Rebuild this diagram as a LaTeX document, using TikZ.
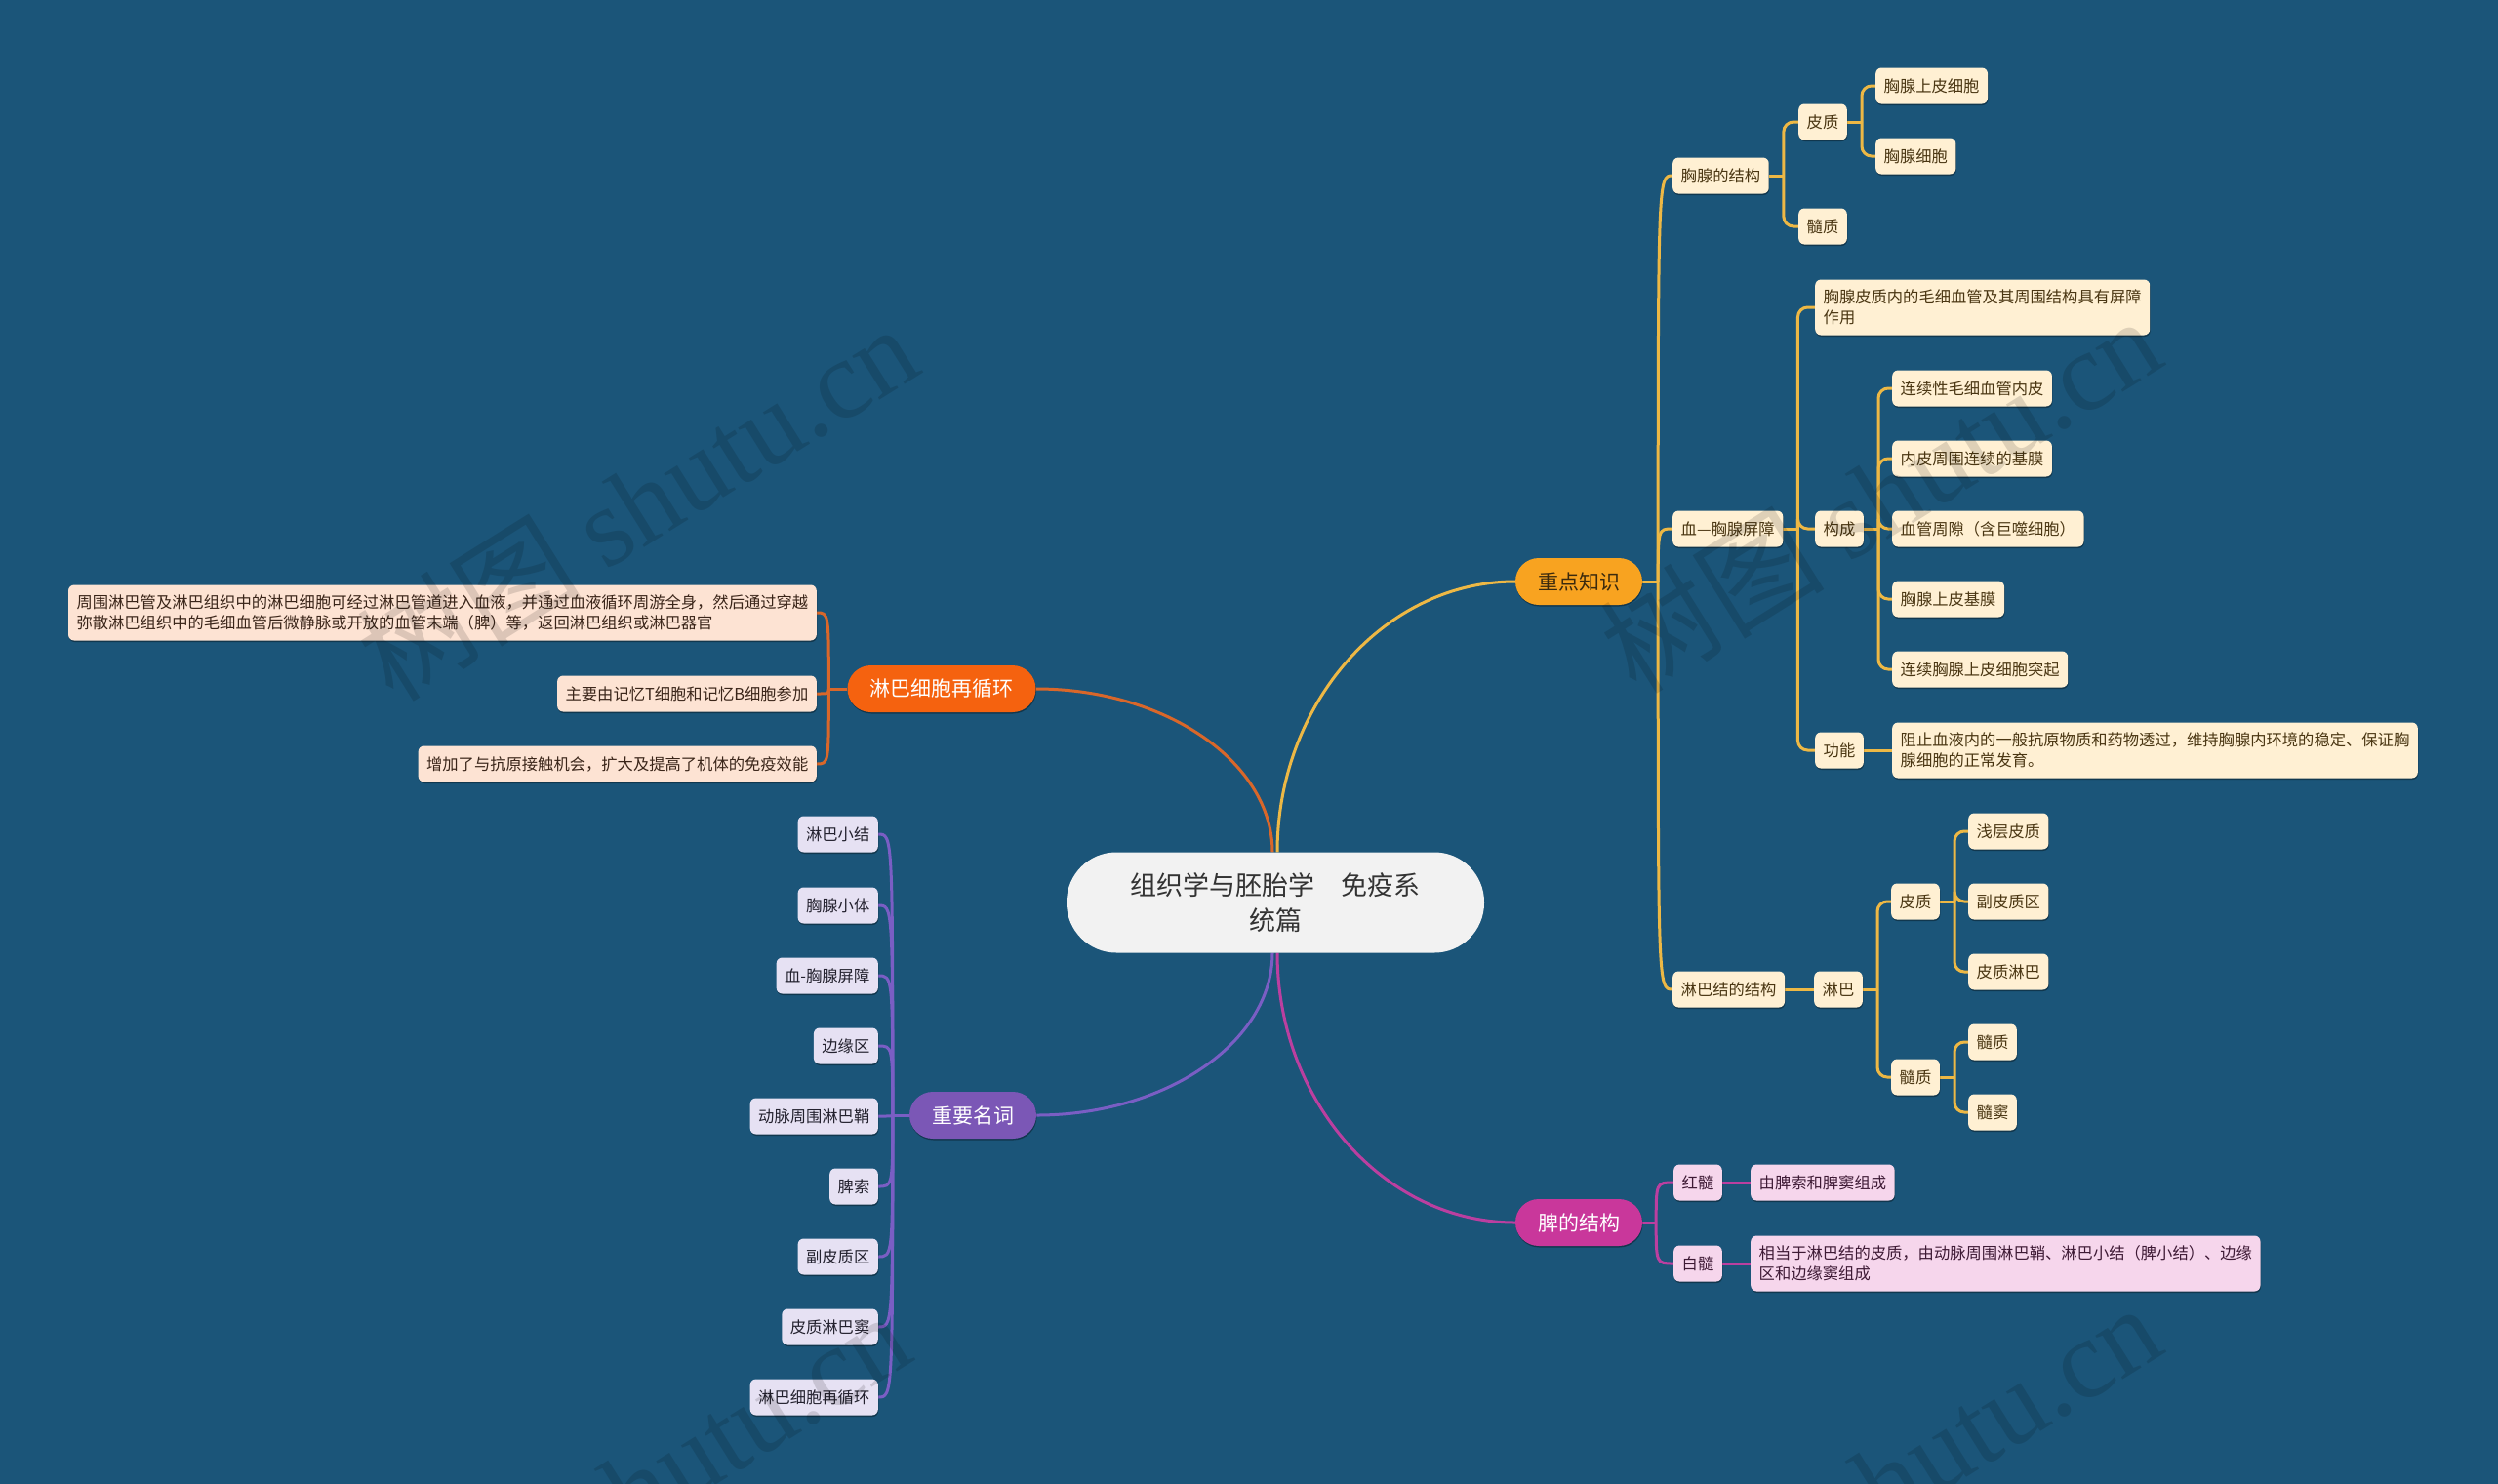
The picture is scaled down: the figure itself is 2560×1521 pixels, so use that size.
\documentclass[tikz,border=0pt]{standalone}
\usepackage{fontspec}
\setmainfont{Noto Sans CJK SC}
\newfontfamily\wmserif{Liberation Serif}
\usetikzlibrary{calc,shadows}
\definecolor{bgc}{HTML}{1B5579}
\definecolor{cfill}{HTML}{F2F2F2}
\definecolor{ctext}{HTML}{333333}
\definecolor{ymain}{HTML}{F8A320}
\definecolor{ymtext}{HTML}{3B2A0E}
\definecolor{ycol}{HTML}{EDB845}
\definecolor{yfill}{HTML}{FFF0D3}
\definecolor{ytext}{HTML}{4A3612}
\definecolor{omain}{HTML}{F5620F}
\definecolor{ocol}{HTML}{D9672A}
\definecolor{ofill}{HTML}{FDE3D3}
\definecolor{otext}{HTML}{3A2519}
\definecolor{pmain}{HTML}{7B57B6}
\definecolor{pcol}{HTML}{7A5EC4}
\definecolor{pfill}{HTML}{E6E1F3}
\definecolor{ptext}{HTML}{23212E}
\definecolor{mmain}{HTML}{C9379B}
\definecolor{mcol}{HTML}{BB3FA0}
\definecolor{mfill}{HTML}{F6D6EC}
\definecolor{mtext}{HTML}{3E1A35}
\pgfdeclarelayer{bgl}
\pgfdeclarelayer{edges}
\pgfsetlayers{bgl,edges,main}
\tikzset{
  shd/.style={drop shadow={shadow xshift=0.5pt,shadow yshift=-1.5pt,opacity=0.35,fill=black}},
  leaf/.style={shd,rounded corners=6pt,inner xsep=8.5pt,inner ysep=0pt,minimum height=37pt,font=\fontsize{16.3}{21}\selectfont},
  multi/.style={leaf,align=left,inner ysep=7.5pt,minimum height=57pt},
  yl/.style={fill=yfill,text=ytext},
  ol/.style={fill=ofill,text=otext},
  pl/.style={fill=pfill,text=ptext},
  ml/.style={fill=mfill,text=mtext},
  mainb/.style={shd,rounded corners=24pt,minimum height=48pt,inner xsep=23pt,inner ysep=0pt,font=\fontsize{21}{24}\selectfont},
  cnode/.style={fill=cfill,text=ctext,rounded corners=51pt,minimum width=428pt,minimum height=103pt,align=center,font=\fontsize{27}{36}\selectfont},
  ycon/.style={draw=ycol,line width=3pt},
  ocon/.style={draw=ocol,line width=3pt},
  pcon/.style={draw=pcol,line width=3pt},
  mcon/.style={draw=mcol,line width=3pt},
  wm/.style={text=black,opacity=0.13,rotate=32,font=\fontsize{115}{115}\selectfont}
}
\begin{document}
\begin{tikzpicture}[x=1pt,y=-1pt]
\useasboundingbox (0,0) rectangle (2560,1521);
\begin{pgfonlayer}{bgl}
\fill[bgc] (0,0) rectangle (2560,1521);
\end{pgfonlayer}

% central
\node[cnode] (c) at (1307,925) {组织学与胚胎学　免疫系\\统篇};

% main branches
\node[mainb,fill=ymain,text=ymtext] (zd) at (1618,596) {重点知识};
\node[mainb,fill=omain,text=white] (lx) at (965,706) {淋巴细胞再循环};
\node[mainb,fill=pmain,text=white] (zy) at (997,1143) {重要名词};
\node[mainb,fill=mmain,text=white] (pj) at (1618,1253) {脾的结构};

% 重点知识 subtree
\node[leaf,yl,anchor=west] (xj) at (1714,180) {胸腺的结构};
\node[leaf,yl,anchor=west] (xjpz) at (1843,125) {皮质};
\node[leaf,yl,anchor=west] (xjpz1) at (1922,88) {胸腺上皮细胞};
\node[leaf,yl,anchor=west] (xjpz2) at (1922,160) {胸腺细胞};
\node[leaf,yl,anchor=west] (xjsz) at (1843,232) {髓质};

\node[leaf,yl,anchor=west] (xp) at (1714,542) {血—胸腺屏障};
\node[multi,yl,anchor=west] (xp1) at (1860,315) {胸腺皮质内的毛细血管及其周围结构具有屏障\\作用};
\node[leaf,yl,anchor=west] (xpgc) at (1860,542) {构成};
\node[leaf,yl,anchor=west] (gc1) at (1939,398) {连续性毛细血管内皮};
\node[leaf,yl,anchor=west] (gc2) at (1939,470) {内皮周围连续的基膜};
\node[leaf,yl,anchor=west] (gc3) at (1939,542) {血管周隙（含巨噬细胞）};
\node[leaf,yl,anchor=west] (gc4) at (1939,614) {胸腺上皮基膜};
\node[leaf,yl,anchor=west] (gc5) at (1939,686) {连续胸腺上皮细胞突起};
\node[leaf,yl,anchor=west] (xpgn) at (1860,769) {功能};
\node[multi,yl,anchor=west] (gn1) at (1939,769) {阻止血液内的一般抗原物质和药物透过，维持胸腺内环境的稳定、保证胸\\腺细胞的正常发育。};

\node[leaf,yl,anchor=west] (lj) at (1714,1014) {淋巴结的结构};
\node[leaf,yl,anchor=west] (ljlb) at (1859,1014) {淋巴};
\node[leaf,yl,anchor=west] (ljpz) at (1938,924) {皮质};
\node[leaf,yl,anchor=west] (lp1) at (2017,852) {浅层皮质};
\node[leaf,yl,anchor=west] (lp2) at (2017,924) {副皮质区};
\node[leaf,yl,anchor=west] (lp3) at (2017,996) {皮质淋巴};
\node[leaf,yl,anchor=west] (ljsz) at (1938,1104) {髓质};
\node[leaf,yl,anchor=west] (ls1) at (2017,1068) {髓质};
\node[leaf,yl,anchor=west] (ls2) at (2017,1140) {髓窦};

% 脾的结构 subtree
\node[leaf,ml,anchor=west] (hs) at (1715,1212) {红髓};
\node[leaf,ml,anchor=west] (hs1) at (1794,1212) {由脾索和脾窦组成};
\node[leaf,ml,anchor=west] (bs) at (1715,1295) {白髓};
\node[multi,ml,anchor=west] (bs1) at (1794,1295) {相当于淋巴结的皮质，由动脉周围淋巴鞘、淋巴小结（脾小结）、边缘\\区和边缘窦组成};

% 淋巴细胞再循环 subtree
\node[multi,ol,anchor=east] (lx1) at (837,628) {周围淋巴管及淋巴组织中的淋巴细胞可经过淋巴管道进入血液，并通过血液循环周游全身，然后通过穿越\\弥散淋巴组织中的毛细血管后微静脉或开放的血管末端（脾）等，返回淋巴组织或淋巴器官};
\node[leaf,ol,anchor=east] (lx2) at (837,711) {主要由记忆T细胞和记忆B细胞参加};
\node[leaf,ol,anchor=east] (lx3) at (837,783) {增加了与抗原接触机会，扩大及提高了机体的免疫效能};

% 重要名词 subtree
\node[leaf,pl,anchor=east] (zy1) at (900,855) {淋巴小结};
\node[leaf,pl,anchor=east] (zy2) at (900,928) {胸腺小体};
\node[leaf,pl,anchor=east] (zy3) at (900,1000) {血-胸腺屏障};
\node[leaf,pl,anchor=east] (zy4) at (900,1072) {边缘区};
\node[leaf,pl,anchor=east] (zy5) at (900,1144) {动脉周围淋巴鞘};
\node[leaf,pl,anchor=east] (zy6) at (900,1216) {脾索};
\node[leaf,pl,anchor=east] (zy7) at (900,1288) {副皮质区};
\node[leaf,pl,anchor=east] (zy8) at (900,1360) {皮质淋巴窦};
\node[leaf,pl,anchor=east] (zy9) at (900,1432) {淋巴细胞再循环};

% junctions
\coordinate (zdJ) at ($(zd.east)+(16,0)$);
\coordinate (pjJ) at ($(pj.east)+(14,0)$);
\coordinate (lxJ) at ($(lx.west)+(-19,0)$);
\coordinate (zyJ) at ($(zy.west)+(-17,0)$);
\coordinate (xjJ) at ($(xj.east)+(15,0)$);
\coordinate (xjpzJ) at ($(xjpz.east)+(15,0)$);
\coordinate (xpJ) at ($(xp.east)+(15,0)$);
\coordinate (xpgcJ) at ($(xpgc.east)+(15,0)$);
\coordinate (ljlbJ) at ($(ljlb.east)+(15,0)$);
\coordinate (ljpzJ) at ($(ljpz.east)+(15,0)$);
\coordinate (ljszJ) at ($(ljsz.east)+(15,0)$);
\coordinate (cN1) at ($(c.north)+(2,0)$);
\coordinate (cN2) at ($(c.north)+(-3,0)$);
\coordinate (cS1) at ($(c.south)+(-3,0)$);
\coordinate (cS2) at ($(c.south)+(2,0)$);

\begin{pgfonlayer}{edges}
% main curves
\draw[ycon] (cN1) .. controls +(0,-152) and +(-134,0) .. (zd.west);
\draw[ocon] (cN2) .. controls +(0,-92) and +(133,0) .. (lx.east);
\draw[pcon] (cS1) .. controls +(0,92) and +(132,0) .. (zy.east);
\draw[mcon] (cS2) .. controls +(0,152) and +(-134,0) .. (pj.west);

% level 1 curvy
\draw[ycon] (zd.east) -- (zdJ);
\foreach \n in {xj,xp,lj} \draw[ycon] (zdJ) .. controls (zdJ |- \n.west) .. (\n.west);
\draw[mcon] (pj.east) -- (pjJ);
\foreach \n in {hs,bs} \draw[mcon] (pjJ) .. controls (pjJ |- \n.west) .. (\n.west);
\draw[ocon] (lx.west) -- (lxJ);
\foreach \n in {lx1,lx2,lx3} \draw[ocon] (lxJ) .. controls (lxJ |- \n.east) .. (\n.east);
\draw[pcon] (zy.west) -- (zyJ);
\foreach \n in {zy1,zy2,zy3,zy4,zy5,zy6,zy7,zy8,zy9} \draw[pcon] (zyJ) .. controls (zyJ |- \n.east) .. (\n.east);

% deeper elbows
\draw[ycon] (xj.east) -- (xjJ);
\foreach \n in {xjpz,xjsz} \draw[ycon,rounded corners=10pt] (xjJ) |- (\n.west);
\draw[ycon] (xjpz.east) -- (xjpzJ);
\foreach \n in {xjpz1,xjpz2} \draw[ycon,rounded corners=10pt] (xjpzJ) |- (\n.west);
\draw[ycon] (xp.east) -- (xpJ);
\foreach \n in {xp1,xpgc,xpgn} \draw[ycon,rounded corners=10pt] (xpJ) |- (\n.west);
\draw[ycon] (xpgc.east) -- (xpgcJ);
\foreach \n in {gc1,gc2,gc3,gc4,gc5} \draw[ycon,rounded corners=10pt] (xpgcJ) |- (\n.west);
\draw[ycon] (xpgn.east) -- (gn1.west);
\draw[ycon] (lj.east) -- (ljlb.west);
\draw[ycon] (ljlb.east) -- (ljlbJ);
\foreach \n in {ljpz,ljsz} \draw[ycon,rounded corners=10pt] (ljlbJ) |- (\n.west);
\draw[ycon] (ljpz.east) -- (ljpzJ);
\foreach \n in {lp1,lp2,lp3} \draw[ycon,rounded corners=10pt] (ljpzJ) |- (\n.west);
\draw[ycon] (ljsz.east) -- (ljszJ);
\foreach \n in {ls1,ls2} \draw[ycon,rounded corners=10pt] (ljszJ) |- (\n.west);
\draw[mcon] (hs.east) -- (hs1.west);
\draw[mcon] (bs.east) -- (bs1.west);
\end{pgfonlayer}

% watermarks
\node[wm] (wm1) at (653,514) {树图 {\wmserif shutu.cn}};
\node[wm] (wm2) at (1927,506) {树图 {\wmserif shutu.cn}};
\node[wm] (wm3) at (645,1526) {树图 {\wmserif shutu.cn}};
\node[wm] (wm4) at (1927,1518) {树图 {\wmserif shutu.cn}};
\end{tikzpicture}
\end{document}
